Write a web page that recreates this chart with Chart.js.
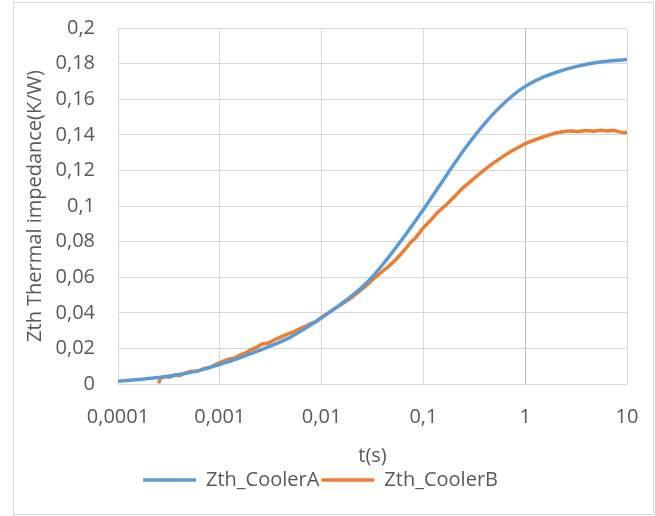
<!DOCTYPE html>
<html lang="en">
<head>
  <meta charset="UTF-8">
  <title>Zth cooler comparison</title>
  <script src="https://cdn.jsdelivr.net/npm/chart.js"></script>
  <style>
    html, body { margin: 0; padding: 0; background: #fff; }
    #wrap { width: 655px; height: 516px; }
  </style>
</head>
<body>
  <div id="wrap"><canvas id="zthChart" width="655" height="516"></canvas></div>

  <script>
    // time axis (s), log scale
    const xTicks = [0.0001, 0.001, 0.01, 0.1, 1, 10];
    const xTickLabels = ['0,0001', '0,001', '0,01', '0,1', '1', '10'];

    // Zth_CoolerA - smooth curve
    const tA = [0.0001, 0.00015, 0.00025, 0.0004, 0.0006, 0.001, 0.0015, 0.002, 0.003, 0.005, 0.007,
                0.01, 0.015, 0.024, 0.032, 0.044, 0.064, 0.1, 0.172, 0.25, 0.363, 0.53, 0.77,
                1, 1.5, 2.1, 3, 4.5, 7, 10];
    const zA = [0.0015, 0.0024, 0.0036, 0.0053, 0.0074, 0.0110, 0.0142, 0.0170, 0.0208, 0.0265, 0.0314,
                0.0372, 0.0443, 0.0535, 0.0606, 0.0702, 0.0824, 0.0980, 0.1180, 0.1315, 0.1435, 0.1540, 0.1625,
                0.1672, 0.1724, 0.1754, 0.1780, 0.1802, 0.1816, 0.1823];

    // Zth_CoolerB - measured, noisy
    const tB = [0.00025, 0.00026, 0.00029, 0.00032, 0.00036, 0.0004, 0.00045, 0.00052, 0.0006, 0.0007,
                0.0008, 0.0009, 0.001, 0.0012, 0.0014, 0.0016, 0.0018, 0.002, 0.0023, 0.0026,
                0.003, 0.0035, 0.004, 0.0046, 0.0053, 0.006, 0.007, 0.008, 0.009, 0.01,
                0.012, 0.014, 0.017, 0.02, 0.024, 0.028, 0.033, 0.04, 0.047, 0.055,
                0.065, 0.075, 0.085, 0.1, 0.12, 0.14, 0.17, 0.2, 0.24, 0.28,
                0.33, 0.4, 0.47, 0.55, 0.65, 0.75, 0.9, 1, 1.2, 1.4,
                1.7, 2, 2.4, 2.8, 3.3, 4, 4.7, 5.5, 6.5, 7.5, 8.5, 10];
    const zB = [0.0003, 0.0030, 0.0042, 0.0038, 0.0050, 0.0046, 0.0060, 0.0072, 0.0070, 0.0088,
                0.0092, 0.0108, 0.0120, 0.0138, 0.0146, 0.0165, 0.0175, 0.0192, 0.0205, 0.0225,
                0.0230, 0.0250, 0.0265, 0.0280, 0.0292, 0.0308, 0.0325, 0.0342, 0.0352, 0.0376,
                0.0405, 0.0430, 0.0460, 0.0488, 0.0526, 0.0556, 0.0595, 0.0635, 0.0668, 0.0705,
                0.0752, 0.0795, 0.0825, 0.0878, 0.0925, 0.0968, 0.1010, 0.1050, 0.1098, 0.1130,
                0.1165, 0.1205, 0.1235, 0.1262, 0.1290, 0.1312, 0.1336, 0.1350, 0.1368, 0.1382,
                0.1398, 0.1410, 0.1418, 0.1422, 0.1418, 0.1424, 0.1420, 0.1426, 0.1422, 0.1425, 0.1415, 0.1412];

    const textColor = '#595959';
    const gridColor = '#d9d9d9';
    const font = { family: '"Open Sans", sans-serif', size: 20 };

    const frame = {
      id: 'frame',
      beforeDraw(chart) {
        const c = chart.ctx;
        c.save();
        c.fillStyle = '#fff';
        c.fillRect(0, 0, chart.width, chart.height);
        c.strokeStyle = gridColor;
        c.lineWidth = 1;
        c.strokeRect(13.5, 2.5, 640, 512);
        c.restore();
      }
    };

    new Chart(document.getElementById('zthChart'), {
      type: 'line',
      data: {
        datasets: [
          {
            label: 'Zth_CoolerA',
            data: tA.map((t, i) => ({ x: t, y: zA[i] })),
            borderColor: '#5b9bd5',
            backgroundColor: '#5b9bd5',
            borderWidth: 3.5,
            pointRadius: 0,
            cubicInterpolationMode: 'monotone'
          },
          {
            label: 'Zth_CoolerB',
            data: tB.map((t, i) => ({ x: t, y: zB[i] })),
            borderColor: '#ed7d31',
            backgroundColor: '#ed7d31',
            borderWidth: 3.5,
            pointRadius: 0,
            tension: 0
          }
        ]
      },
      options: {
        responsive: false,
        animation: false,
        layout: { padding: { left: 14, top: 28, right: 28, bottom: 16 } },
        plugins: {
          legend: {
            position: 'bottom',
            labels: {
              color: textColor,
              font: font,
              usePointStyle: true,
              pointStyle: 'line',
              pointStyleWidth: 53,
              padding: 2
            }
          },
          tooltip: { enabled: false }
        },
        scales: {
          x: {
            type: 'logarithmic',
            min: 0.0001,
            max: 10,
            afterBuildTicks: s => { s.ticks = xTicks.map(v => ({ value: v })); },
            afterFit: s => { s.height = 84; s.paddingLeft = 0; s.paddingRight = 0; },
            ticks: {
              color: textColor,
              font: font,
              padding: 21,
              maxRotation: 0,
              autoSkip: false,
              callback: (v, i) => xTickLabels[i]
            },
            grid: {
              drawTicks: false,
              color: ctx => (ctx.tick && ctx.tick.value === 1) ? '#bfbfbf' : gridColor
            },
            border: { display: false },
            title: { display: true, text: 't(s)', color: textColor, font: font, padding: { top: 15, bottom: 0 } }
          },
          y: {
            min: 0,
            max: 0.2,
            afterFit: s => { s.width = 104; s.paddingTop = 0; s.paddingBottom = 0; },
            ticks: {
              stepSize: 0.02,
              color: textColor,
              font: font,
              padding: 23,
              callback: v => String(Math.round(v * 100) / 100).replace('.', ',')
            },
            grid: { drawTicks: false, color: gridColor },
            border: { display: false },
            title: { display: true, text: 'Zth Thermal impedance(K/W)', color: textColor, font: font, padding: { top: 9, bottom: 0 } }
          }
        }
      },
      plugins: [frame]
    });
  </script>
</body>
</html>
